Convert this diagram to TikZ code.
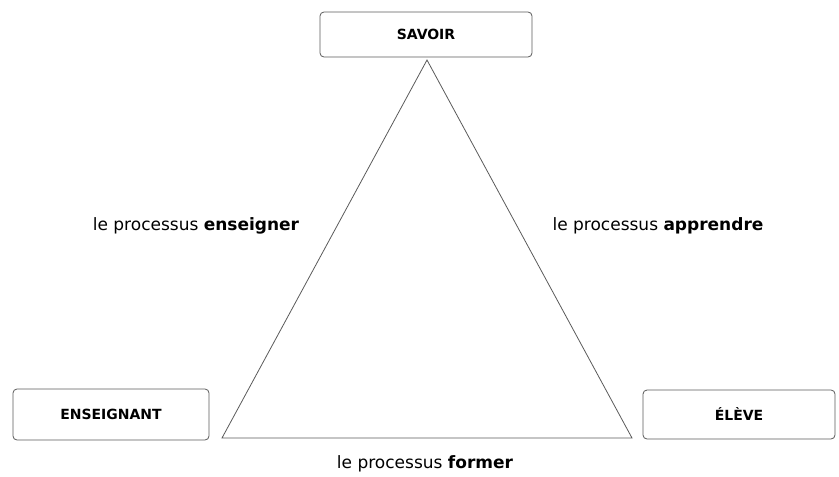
\documentclass[tikz,border=0pt]{standalone}
\usepackage{fontspec}
\setmainfont{DejaVu Sans}
\usepackage{tikz}
\usetikzlibrary{positioning}
\definecolor{cadre}{RGB}{90,90,90}
\tikzstyle{polebox} = [draw=cadre, fill=white, thick,
    rectangle, rounded corners=4pt, minimum height=46pt,
    font=\fontsize{14}{16}\selectfont\bfseries]
\tikzstyle{processus} =[font=\fontsize{17}{20}\selectfont]

\begin{document}
\begin{tikzpicture}[x=1pt,y=-1pt]
    \useasboundingbox (0,0) rectangle (839,477);
    % les trois poles
    \node [polebox, minimum width=212pt, minimum height=45pt] (savoir) at (426,34.5) {SAVOIR};
    \node [polebox, minimum width=196pt, minimum height=51pt] (enseignant) at (111,414.5) {ENSEIGNANT};
    \node [polebox, minimum width=192pt, minimum height=49pt] (eleve) at (739,414.5) {ÉLÈVE};
    % le triangle
    \coordinate (haut) at (427,60);
    \coordinate (gauche) at (222,438);
    \coordinate (droite) at (632,438);
    \draw [cadre, thick] (haut) -- (gauche) -- (droite) -- cycle;
    % les processus
    \node [processus] (enseigner) at (196,226) {le processus \textbf{enseigner}};
    \node [processus] (apprendre) at (658,226) {le processus \textbf{apprendre}};
    \node [processus] (former) at (425,464) {le processus \textbf{former}};
\end{tikzpicture}
\end{document}
